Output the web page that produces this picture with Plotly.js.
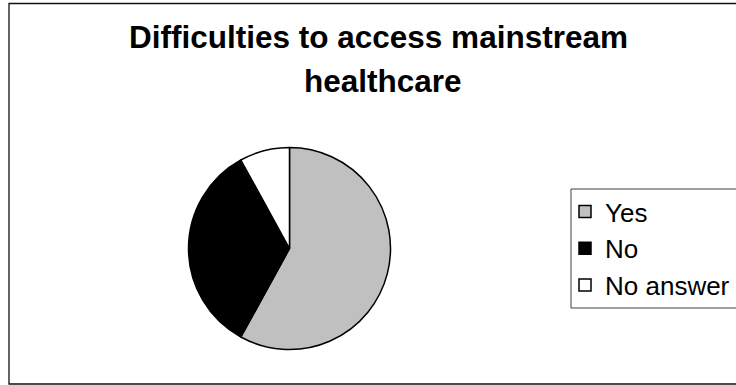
<!DOCTYPE html>
<html>
<head>
<meta charset="utf-8">
<script src="https://cdn.plot.ly/plotly-3.0.1.min.js"></script>
<style>html,body{margin:0;padding:0;background:#fff;}#chart{width:736px;height:385px;}</style>
</head>
<body>
<div id="chart"></div>
<script>
const categories = ["Yes", "No", "No answer"];
const shares = [58, 34, 8];
const sliceColors = ["#C0C0C0", "#000000", "#FFFFFF"];
const titleLines = ["Difficulties to access mainstream", "healthcare"];

const W = 736, H = 385;
const px = x => x / W;
const py = y => 1 - y / H;

const cx = 289.5, cy = 248.5, r = 101;

const trace = {
  type: "pie",
  labels: categories,
  values: shares,
  sort: false,
  direction: "clockwise",
  rotation: 0,
  textinfo: "none",
  hoverinfo: "label+percent",
  marker: { colors: sliceColors, line: { color: "#000000", width: 1.5 } },
  domain: { x: [px(cx - r), px(cx + r)], y: [py(cy + r), py(cy - r)] }
};

const layout = {
  width: W, height: H,
  margin: { l: 0, r: 0, t: 0, b: 0, autoexpand: false },
  paper_bgcolor: "#ffffff",
  font: { family: "Liberation Sans, Arial, sans-serif", color: "#000000" },
  showlegend: true,
  legend: {
    x: px(571), y: py(188), xanchor: "left", yanchor: "top",
    indentation: -6,
    borderwidth: 0, bgcolor: "rgba(0,0,0,0)",
    font: { size: 26, family: "Liberation Sans, Arial, sans-serif", color: "#000000" }
  },
  annotations: [
    { text: "<b>" + titleLines[0] + "</b>", xref: "paper", yref: "paper", x: px(378), y: py(37.5),
      xanchor: "center", yanchor: "middle", showarrow: false,
      font: { size: 31.5, family: "Liberation Sans, Arial, sans-serif", color: "#000000" } },
    { text: "<b>" + titleLines[1] + "</b>", xref: "paper", yref: "paper", x: px(383), y: py(81),
      xanchor: "center", yanchor: "middle", showarrow: false,
      font: { size: 31.5, family: "Liberation Sans, Arial, sans-serif", color: "#000000" } }
  ],
  shapes: [
    { type: "rect", xref: "paper", yref: "paper", x0: px(9), x1: px(745), y0: py(384), y1: py(3.5),
      line: { color: "#111111", width: 1.3 }, fillcolor: "rgba(0,0,0,0)", layer: "below" },
    { type: "rect", xref: "paper", yref: "paper", x0: px(571), x1: px(745), y0: py(308), y1: py(189),
      line: { color: "#404040", width: 1 }, fillcolor: "rgba(0,0,0,0)", layer: "below" }
  ]
};

Plotly.newPlot("chart", [trace], layout, { displayModeBar: false, staticPlot: true });
</script>
</body>
</html>
